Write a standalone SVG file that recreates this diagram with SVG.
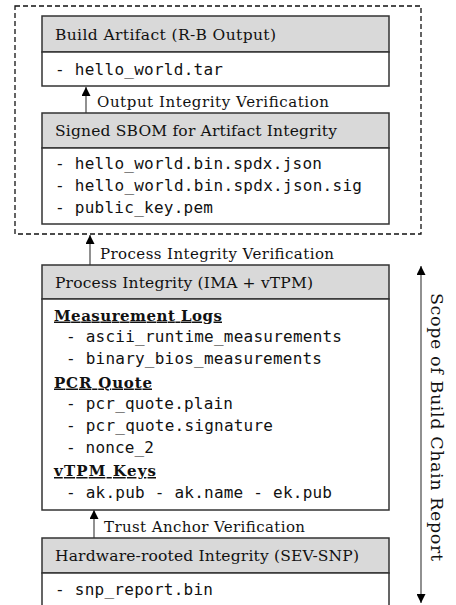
<svg xmlns="http://www.w3.org/2000/svg" width="456" height="605" viewBox="0 0 456 605">
<defs>
<style>
.hdr{fill:#d9d9d9;stroke:#333;stroke-width:1.5}
.body{fill:#fff;stroke:#333;stroke-width:1.5}
.ht{font-family:"DejaVu Serif","Liberation Serif",serif;font-size:15.5px;fill:#111}
.lbl{font-family:"DejaVu Serif","Liberation Serif",serif;font-size:15px;fill:#111}
.vt{font-family:"DejaVu Serif","Liberation Serif",serif;font-size:17.5px;fill:#111}
.mono{font-family:"DejaVu Sans Mono","Liberation Mono",monospace;font-size:16px;fill:#111}
.sec{font-family:"DejaVu Serif","Liberation Serif",serif;font-size:15px;font-weight:bold;fill:#111;text-decoration:underline}
.conn{stroke:#555;stroke-width:1.3;fill:none}
</style>
<marker id="ah" markerWidth="9" markerHeight="9" refX="9" refY="4.5" orient="auto-start-reverse" markerUnits="userSpaceOnUse" viewBox="0 0 9 9">
<path d="M0,0 L9,4.5 L0,9 Z" fill="#000"/>
</marker>
</defs>
<rect width="456" height="605" fill="#fff"/>

<g id="scope-box">
<rect x="15" y="6" width="406" height="228" fill="none" stroke="#111" stroke-width="1.3" stroke-dasharray="5,3"/>
</g>

<g id="connectors">
<line class="conn" x1="86" y1="113" x2="86" y2="87" marker-end="url(#ah)"/>
<line class="conn" x1="90" y1="265" x2="90" y2="235" marker-end="url(#ah)"/>
<line class="conn" x1="94" y1="538" x2="94" y2="510" marker-end="url(#ah)"/>
<line class="conn" x1="421" y1="266" x2="421" y2="603" marker-start="url(#ah)" marker-end="url(#ah)"/>
<text class="lbl" x="97" y="107" textLength="232">Output Integrity Verification</text>
<text class="lbl" x="100" y="259" textLength="234">Process Integrity Verification</text>
<text class="lbl" x="104" y="532" textLength="201">Trust Anchor Verification</text>
<text class="vt" transform="rotate(90 431 427)" x="431" y="427" text-anchor="middle" textLength="268">Scope of Build Chain Report</text>
</g>

<g id="build-artifact">
<rect class="hdr" x="42" y="16" width="347" height="36"/>
<rect class="body" x="42" y="52" width="347" height="34"/>
<text class="ht" x="55" y="39.5" textLength="221">Build Artifact (R-B Output)</text>
<text class="mono" x="55" y="75" textLength="168">- hello_world.tar</text>
</g>

<g id="signed-sbom">
<rect class="hdr" x="42" y="113" width="347" height="35"/>
<rect class="body" x="42" y="148" width="347" height="76"/>
<text class="ht" x="55" y="136" textLength="282">Signed SBOM for Artifact Integrity</text>
<text class="mono" x="55" y="169" textLength="267">- hello_world.bin.spdx.json</text>
<text class="mono" x="55" y="191" textLength="307">- hello_world.bin.spdx.json.sig</text>
<text class="mono" x="55" y="213" textLength="158">- public_key.pem</text>
</g>

<g id="process-integrity">
<rect class="hdr" x="42" y="265" width="347" height="34"/>
<rect class="body" x="42" y="299" width="347" height="211"/>
<text class="ht" x="55" y="288" textLength="258">Process Integrity (IMA + vTPM)</text>
<text class="sec" x="54" y="320.5" textLength="168">Measurement Logs</text>
<text class="mono" x="66" y="342" textLength="276">- ascii_runtime_measurements</text>
<text class="mono" x="66" y="364" textLength="256">- binary_bios_measurements</text>
<text class="sec" x="54" y="387.5" textLength="98">PCR Quote</text>
<text class="mono" x="66" y="409" textLength="167">- pcr_quote.plain</text>
<text class="mono" x="66" y="431" textLength="207">- pcr_quote.signature</text>
<text class="mono" x="66" y="453" textLength="88">- nonce_2</text>
<text class="sec" x="54" y="476" textLength="102">vTPM Keys</text>
<text class="mono" x="66" y="498" textLength="266">- ak.pub - ak.name - ek.pub</text>
</g>

<g id="hardware-integrity">
<rect class="hdr" x="42" y="538" width="347" height="35"/>
<rect class="body" x="42" y="573" width="347" height="40"/>
<text class="ht" x="55" y="561" textLength="304">Hardware-rooted Integrity (SEV-SNP)</text>
<text class="mono" x="55" y="595" textLength="158">- snp_report.bin</text>
</g>
</svg>
